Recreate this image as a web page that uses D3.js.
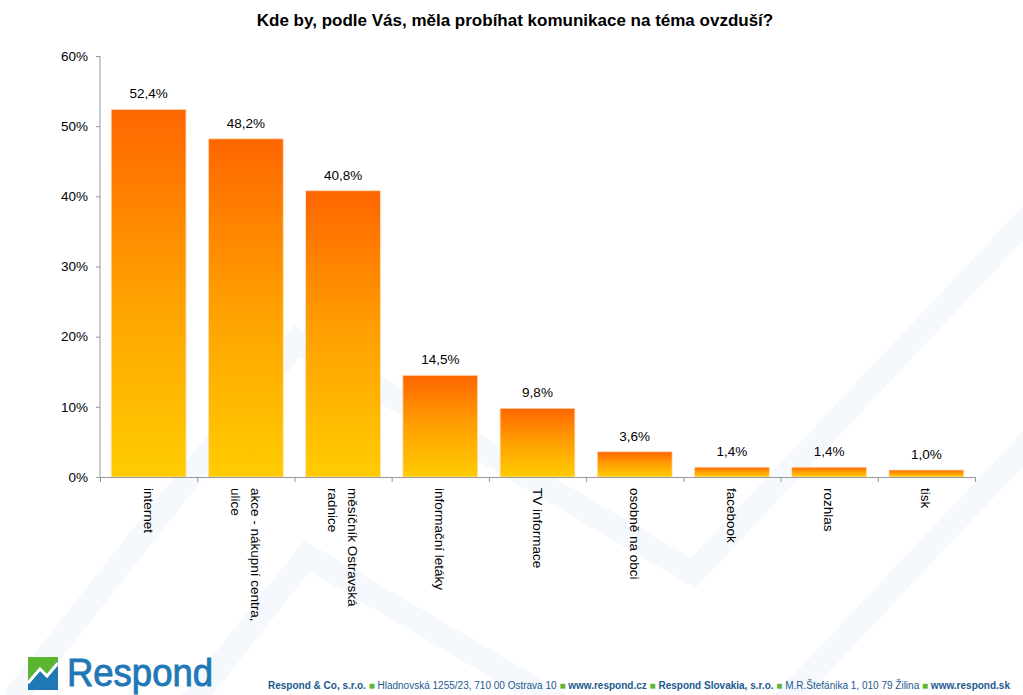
<!DOCTYPE html>
<html lang="cs">
<head>
<meta charset="utf-8">
<title>Kde by, podle Vás, měla probíhat komunikace na téma ovzduší?</title>
<script src="https://cdn.jsdelivr.net/npm/d3@7"></script>
<style>
  html, body { margin: 0; padding: 0; background: #fff; }
  svg { display: block; font-family: "Liberation Sans", Arial, sans-serif; }
</style>
</head>
<body>
<svg id="chart" width="1023" height="695"></svg>
<script>
// Survey answers (share of respondents, %)
const categories = [
  "internet",
  "akce - nákupní centra, ulice",
  "měsíčník Ostravská radnice",
  "informační letáky",
  "TV informace",
  "osobně na obci",
  "facebook",
  "rozhlas",
  "tisk"
];
// How each category label is broken into lines
const categoryLines = [
  ["internet"],
  ["akce - nákupní centra,", "ulice"],
  ["měsíčník Ostravská", "radnice"],
  ["informační letáky"],
  ["TV informace"],
  ["osobně na obci"],
  ["facebook"],
  ["rozhlas"],
  ["tisk"]
];
const values = [52.4, 48.2, 40.8, 14.5, 9.8, 3.6, 1.4, 1.4, 1.0];
const yTicks = [0, 10, 20, 30, 40, 50, 60];
const title = "Kde by, podle Vás, měla probíhat komunikace na téma ovzduší?";

const footerParts = [
  { t: "Respond & Co, s.r.o.", bold: true },
  { t: " \u25A0 ", sq: true },
  { t: "Hladnovská 1255/23, 710 00  Ostrava 10", bold: false },
  { t: " \u25A0 ", sq: true },
  { t: "www.respond.cz", bold: true },
  { t: " \u25A0 ", sq: true },
  { t: "Respond Slovakia, s.r.o.", bold: true },
  { t: " \u25A0 ", sq: true },
  { t: "M.R.Štefánika 1, 010 79  Žilina", bold: false },
  { t: " \u25A0 ", sq: true },
  { t: "www.respond.sk", bold: true }
];

const svg = d3.select("#chart");
const plot = { left: 100, right: 975, top: 56, bottom: 477 };

// Faint zig-zag watermark in the background
const defs = svg.append("defs");
const wm = svg.append("g").attr("fill", "none").attr("stroke", "#f5f8fc")
  .attr("stroke-width", 24).attr("stroke-linejoin", "miter");
wm.append("path").attr("d", "M13,700 L297,341 L693,573 L1045,200");
wm.append("path").attr("d", "M23,915 L307,556 L703,788 L1055,415");

// Scales
const x = d3.scaleBand().domain(d3.range(categories.length))
  .range([plot.left, plot.right]).paddingInner(0.23).paddingOuter(0.115);
const y = d3.scaleLinear().domain([0, 60]).range([plot.bottom, plot.top]);
const xEdges = d3.scaleLinear().domain([0, categories.length]).range([plot.left, plot.right]);

// Bar gradient: orange top, yellow bottom
const grad = defs.append("linearGradient").attr("id", "barGrad")
  .attr("x1", 0).attr("y1", 0).attr("x2", 0).attr("y2", 1);
grad.append("stop").attr("offset", "0%").attr("stop-color", "#ff6600");
grad.append("stop").attr("offset", "50%").attr("stop-color", "#ffa000");
grad.append("stop").attr("offset", "100%").attr("stop-color", "#ffcc00");

// Title
svg.append("text").attr("x", 515).attr("y", 26).attr("text-anchor", "middle")
  .attr("font-size", 17).attr("font-weight", "bold").attr("fill", "#000").text(title);

// Bars
svg.append("g").selectAll("rect").data(values).join("rect")
  .attr("x", (d, i) => x(i)).attr("width", x.bandwidth())
  .attr("y", d => y(d)).attr("height", d => y(0) - y(d))
  .attr("fill", "url(#barGrad)")
  .attr("stroke", "#ffe2c4").attr("stroke-width", 0.8);

// Value labels
const fmt = d => d3.format(".1f")(d).replace(".", ",") + "%";
svg.append("g").selectAll("text").data(values).join("text")
  .attr("x", (d, i) => x(i) + x.bandwidth() / 2).attr("y", d => y(d) - 11)
  .attr("text-anchor", "middle").attr("font-size", 13.5).attr("fill", "#000")
  .text(fmt);

// Y axis
const yAxis = svg.append("g").attr("transform", `translate(${plot.left},0)`)
  .call(d3.axisLeft(y).tickValues(yTicks).tickSize(4).tickPadding(8)
    .tickFormat(d => d + "%"));
yAxis.selectAll("path, line").attr("stroke", "#999");
yAxis.select(".domain").attr("d", `M0,${plot.top}V${plot.bottom}`);
yAxis.selectAll("text").attr("font-size", 13.5).attr("fill", "#000")
  .attr("font-family", "Liberation Sans, Arial, sans-serif");

// X axis with ticks on category boundaries
const xAxis = svg.append("g").attr("transform", `translate(0,${plot.bottom})`)
  .call(d3.axisBottom(xEdges).tickValues(d3.range(categories.length + 1))
    .tickSize(5).tickSizeOuter(0).tickFormat(""));
xAxis.selectAll("path, line").attr("stroke", "#999");

// Category labels, rotated to read downwards
const lab = svg.append("g").selectAll("g").data(categoryLines).join("g")
  .attr("transform", (d, i) => `translate(${x(i) + x.bandwidth() / 2},488) rotate(90)`);
lab.each(function (lines) {
  const t = d3.select(this).append("text").attr("font-size", 13.5).attr("fill", "#000")
    .attr("dominant-baseline", "central");
  lines.forEach((ln, k) => {
    t.append("tspan").attr("x", 0).attr("y", (k - (lines.length - 1) / 2) * 20).text(ln);
  });
});

// Footer: logo and company line
const logo = svg.append("g").attr("transform", "translate(28,657)");
logo.append("rect").attr("width", 30).attr("height", 33).attr("fill", "#1f77b4");
logo.append("path").attr("d", "M0,0 H30 V4 L19,17 L12,10 L0,24 Z").attr("fill", "#5cb531");
logo.append("path").attr("d", "M0,26 L12,12 L19,19 L30,6").attr("fill", "none")
  .attr("stroke", "#fff").attr("stroke-width", 3);
svg.append("text").attr("x", 67).attr("y", 686).attr("font-size", 38)
  .attr("fill", "#2178b6").attr("stroke", "#2178b6").attr("stroke-width", 0.9)
  .attr("textLength", 146).attr("lengthAdjust", "spacingAndGlyphs")
  .text("Respond");

const foot = svg.append("text").attr("x", 268).attr("y", 689).attr("font-size", 10)
  .attr("fill", "#1d5a8f").attr("textLength", 742).attr("lengthAdjust", "spacingAndGlyphs");
foot.selectAll("tspan").data(footerParts).join("tspan")
  .attr("font-weight", d => d.bold ? "bold" : "normal")
  .attr("fill", d => d.sq ? "#5cb531" : "#1d5a8f")
  .text(d => d.t);
</script>
</body>
</html>
